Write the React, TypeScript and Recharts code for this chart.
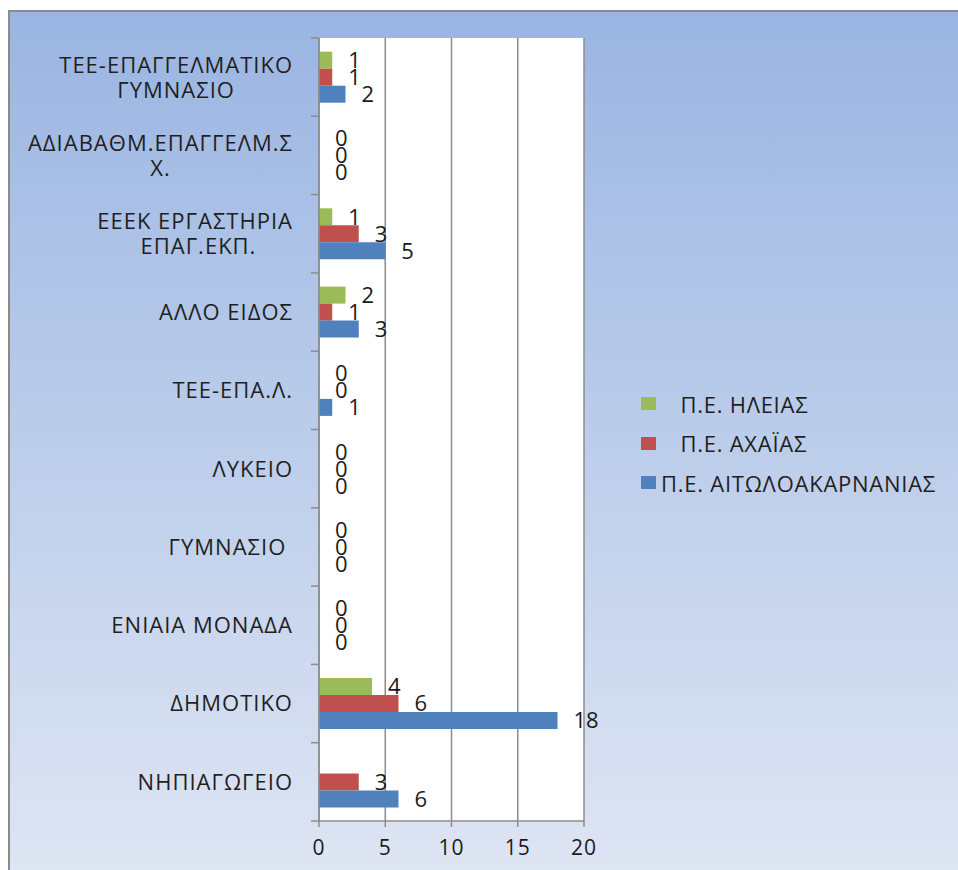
import React from "react";
import { BarChart, Bar, XAxis, YAxis, CartesianGrid, Legend, LabelList } from "recharts";

// Categories (top to bottom); "\n" marks the line break shown in the tick label
const categories: string[] = [
  "ΤΕΕ-ΕΠΑΓΓΕΛΜΑΤΙΚΟ\nΓΥΜΝΑΣΙΟ",
  "ΑΔΙΑΒΑΘΜ.ΕΠΑΓΓΕΛΜ.Σ\nΧ.",
  "ΕΕΕΚ ΕΡΓΑΣΤΗΡΙΑ \nΕΠΑΓ.ΕΚΠ.",
  "ΑΛΛΟ ΕΙΔΟΣ",
  "ΤΕΕ-ΕΠΑ.Λ.",
  "ΛΥΚΕΙΟ",
  "ΓΥΜΝΑΣΙΟ ",
  "ΕΝΙΑΙΑ ΜΟΝΑΔΑ",
  "ΔΗΜΟΤΙΚΟ",
  "ΝΗΠΙΑΓΩΓΕΙΟ",
];

const ileias: (number | null)[] = [1, 0, 1, 2, 0, 0, 0, 0, 4, null];
const achaias: (number | null)[] = [1, 0, 3, 1, 0, 0, 0, 0, 6, 3];
const aitoloakarnanias: (number | null)[] = [2, 0, 5, 3, 1, 0, 0, 0, 18, 6];

const seriesKeys: string[] = ["ileias", "achaias", "aitoloakarnanias"];
const seriesNames: Record<string, string> = {
  ileias: "   Π.Ε. ΗΛΕΙΑΣ",
  achaias: "   Π.Ε. ΑΧΑΪΑΣ",
  aitoloakarnanias: "Π.Ε. ΑΙΤΩΛΟΑΚΑΡΝΑΝΙΑΣ",
};
const seriesColors: Record<string, string> = {
  ileias: "#9BBB59",
  achaias: "#C0504D",
  aitoloakarnanias: "#4F81BD",
};

const xTicks: number[] = [0, 5, 10, 15, 20];

const data = categories.map((name, i) => ({
  name,
  ileias: ileias[i],
  achaias: achaias[i],
  aitoloakarnanias: aitoloakarnanias[i],
}));

const FONT = '"Open Sans", "DejaVu Sans", sans-serif';
const CHART_W = 948;
const CHART_H = 858;
const MARGIN = { top: 26, right: 374, bottom: 19, left: 0 };
const YAXIS_W = 309;
const XAXIS_H = 30;
const PLOT_H = CHART_H - MARGIN.top - MARGIN.bottom - XAXIS_H;
const BAND = PLOT_H / categories.length;
const AXIS_COLOR = "#8c8c8c";
const CAT_FONT_SIZE = 22;
const CAT_SPACING = 1;

let measureCtx: CanvasRenderingContext2D | null = null;
function measure(text: string): number {
  const fallback = text.length * 13;
  if (typeof document === "undefined") return fallback;
  if (!measureCtx) {
    const c = document.createElement("canvas");
    measureCtx = c.getContext("2d");
  }
  if (!measureCtx) return fallback;
  measureCtx.font = `${CAT_FONT_SIZE}px ${FONT}`;
  return measureCtx.measureText(text).width + text.length * CAT_SPACING;
}

const CategoryTick = (props: any) => {
  const { y, payload, index } = props;
  const axisX = MARGIN.left + YAXIS_W;
  const lines: string[] = String(payload.value).split("\n");
  const right = axisX - 26;
  const lineGap = 25;
  const textProps = {
    fontSize: CAT_FONT_SIZE,
    fill: "#1f1f1f",
    fontFamily: FONT,
    letterSpacing: CAT_SPACING,
    style: { whiteSpace: "pre" as const },
  };
  let textEls: React.ReactNode;
  if (lines.length === 1) {
    textEls = (
      <text x={right} y={y} dy="0.36em" textAnchor="end" {...textProps}>
        {lines[0]}
      </text>
    );
  } else {
    const widths = lines.map(measure);
    const maxW = Math.max(...widths);
    const widest = lines[widths.indexOf(maxW)];
    // trailing blanks of the widest line hang past the right edge
    const hang = maxW - measure(widest.replace(/\s+$/, ""));
    const blockRight = right + hang;
    const start = y - ((lines.length - 1) * lineGap) / 2;
    textEls = lines.map((l, k) => (
      <text key={k} x={blockRight - (maxW - widths[k]) / 2} y={start + k * lineGap} dy="0.36em" textAnchor="end" {...textProps}>
        {l}
      </text>
    ));
  }
  return (
    <g>
      <line x1={axisX - 8} x2={axisX} y1={y - BAND / 2} y2={y - BAND / 2} stroke={AXIS_COLOR} strokeWidth={1.5} />
      {index === categories.length - 1 && (
        <line x1={axisX - 8} x2={axisX} y1={y + BAND / 2} y2={y + BAND / 2} stroke={AXIS_COLOR} strokeWidth={1.5} />
      )}
      {textEls}
    </g>
  );
};

const LegendContent = (props: any) => {
  const payload = [...(props.payload || [])].sort(
    (a: any, b: any) => seriesKeys.indexOf(a.dataKey) - seriesKeys.indexOf(b.dataKey)
  );
  return (
    <div style={{ fontFamily: FONT, fontSize: 22, letterSpacing: 0.75, color: "#1f1f1f" }}>
      {payload.map((p: any, i: number) => (
        <div key={i} style={{ display: "flex", alignItems: "center", height: 39.5 }}>
          <span style={{ display: "inline-block", width: 15, height: 13, background: p.color, marginRight: 5, flex: "none" }} />
          <span style={{ whiteSpace: "pre" }}>{p.value}</span>
        </div>
      ))}
    </div>
  );
};

const labelStyle = { fontSize: 22, fill: "#1a1a1a", fontFamily: FONT };
const zeroMin = (value: any) => (value === 0 ? 0.01 : 0);

export default function App() {
  return (
    <div
      style={{
        position: "fixed",
        left: 8,
        top: 10,
        right: 0,
        bottom: 0,
        borderLeft: "2px solid #8a8a8a",
        borderTop: "2px solid #8a8a8a",
        background: "linear-gradient(to bottom, #9AB5E2 0%, #DEE5F3 100%)",
        overflow: "hidden",
      }}
    >
      <BarChart
        width={CHART_W}
        height={CHART_H}
        data={data}
        layout="vertical"
        margin={MARGIN}
        barCategoryGap="17.5%"
        barGap={0}
        style={{ fontFamily: FONT }}
      >
        <CartesianGrid horizontal={false} vertical={true} stroke={AXIS_COLOR} strokeWidth={1.5} fill="#ffffff" />
        <XAxis
          type="number"
          domain={[0, 20]}
          ticks={xTicks}
          height={XAXIS_H}
          tickSize={6}
          tickMargin={13}
          axisLine={{ stroke: AXIS_COLOR, strokeWidth: 1.5 }}
          tickLine={{ stroke: AXIS_COLOR, strokeWidth: 1.5 }}
          tick={{ fontSize: 21, fill: "#1a1a1a", fontFamily: FONT, letterSpacing: 1 }}
          interval={0}
        />
        <YAxis
          type="category"
          dataKey="name"
          width={YAXIS_W}
          axisLine={{ stroke: AXIS_COLOR, strokeWidth: 1.5 }}
          tickLine={false}
          tick={<CategoryTick />}
          interval={0}
        />
        <Legend
          layout="vertical"
          align="center"
          verticalAlign="middle"
          itemSorter={(item: any) => seriesKeys.indexOf(item.dataKey)}
          content={<LegendContent />}
          wrapperStyle={{ left: 631, top: 372, width: 320, height: "auto" }}
        />
        {seriesKeys.map((k) => (
          <Bar
            key={k}
            dataKey={k}
            name={seriesNames[k]}
            fill={seriesColors[k]}
            minPointSize={zeroMin}
            isAnimationActive={false}
          >
            <LabelList dataKey={k} position="right" offset={16} style={labelStyle} />
          </Bar>
        ))}
      </BarChart>
    </div>
  );
}
